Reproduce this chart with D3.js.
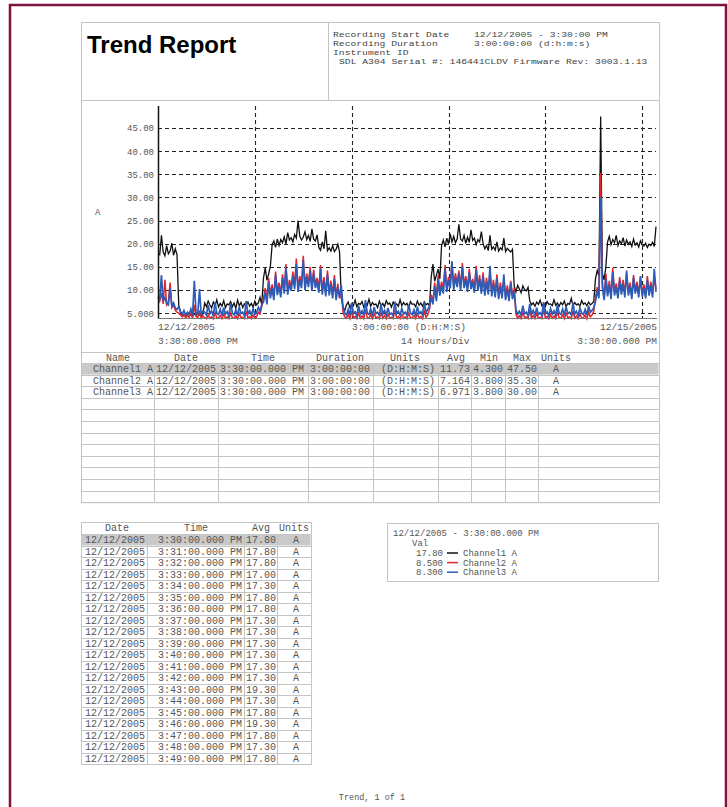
<!DOCTYPE html>
<html><head><meta charset="utf-8">
<script src="https://cdn.jsdelivr.net/npm/d3@7"></script>
<style>
html,body{margin:0;padding:0;background:#fff;}
svg{display:block;}
</style></head>
<body>
<svg id="chart" width="728" height="807"></svg>
<script>
// ---------------- DATA ----------------
const seriesNames = ["Channel1 A", "Channel2 A", "Channel3 A"];
const seriesColors = ["#111111", "#e3242b", "#2c5cb8"];
const totalHours = 72;
const yTicks = [5, 10, 15, 20, 25, 30, 35, 40, 45];
const yTickLabels = ["5.000", "10.00", "15.00", "20.00", "25.00", "30.00", "35.00", "40.00", "45.00"];
const gridHours = [14, 28, 42, 56, 70];

const ch1 = [17.8, 17.6, 21.8, 18.2, 17.4, 19.6, 17.8, 18.4, 20.1, 17.5, 18.9, 17.6,
 6.8, 5.2, 4.6,
 4.4, 4.8, 4.5, 5.1, 4.6, 4.3, 4.9, 4.5, 5.0, 4.6, 4.4, 4.8,
 7.2, 6.4, 7.6, 6.8, 6.1, 7.4, 6.6, 7.9, 6.3, 7.1, 6.5, 7.7, 6.2, 7.0, 6.8, 7.5, 6.4, 7.2, 6.0, 7.8, 6.6, 7.3, 6.2, 7.0, 6.7, 7.4,
 6.5, 7.1, 6.3, 7.6, 6.8, 7.2, 8.4, 6.9,
 12.6, 14.8, 12.1, 13.5, 15.2,
 19.8, 20.6, 19.2, 21.0, 19.6, 20.9, 20.2, 21.5, 19.9, 22.4, 20.8, 21.3, 20.4, 22.0, 21.2,
 25.0, 21.6, 20.8,
 21.4, 22.6, 20.9, 21.8, 20.5, 23.2, 21.0, 20.6, 21.9,
 19.2, 18.6, 20.4, 18.9, 22.8, 18.5, 19.1, 18.4, 19.6, 18.3, 18.8, 19.9, 18.2,
 8.2, 6.4, 5.5,
 6.8, 7.4, 6.2, 7.0, 6.6, 7.8, 6.4, 7.1, 6.9, 7.5, 6.3, 7.2, 6.7, 8.0, 6.5, 7.3, 6.8, 7.0, 6.2, 7.6, 6.6, 7.1, 6.4, 7.7, 6.9,
 7.2, 6.3, 7.4, 6.7, 7.0, 6.5, 7.9, 6.6, 7.3, 6.8, 7.1, 6.2, 7.5, 6.9, 7.0, 6.4, 7.6, 6.7, 7.2, 6.5, 7.4, 6.8, 7.1, 6.6,
 12.8, 15.6, 11.9, 13.2, 14.5, 12.4,
 19.6, 20.8, 19.3, 21.2, 20.0, 22.1, 20.4, 21.6, 20.2, 21.0,
 24.2, 21.0,
 20.6, 21.8, 20.1, 21.4, 20.3, 23.0, 20.7, 21.2, 19.8, 20.9, 20.4, 22.6, 20.0,
 18.9, 19.6, 18.5, 21.8, 18.8, 19.3, 18.6, 20.4, 18.4, 19.1, 18.7, 21.2, 18.3, 19.0, 18.6, 18.2, 18.8,
 10.8, 9.6, 11.0, 10.2, 9.4, 10.9, 10.1, 9.8, 10.6,
 7.6, 6.8, 7.2, 6.5, 7.4, 6.9, 7.8, 6.6, 7.1, 6.4, 7.5, 6.9, 7.0, 6.6, 7.9, 6.7, 7.2, 6.5, 7.3,
 6.8, 7.6, 6.4, 7.1, 6.9, 8.2, 6.6, 7.3, 6.8, 7.0, 6.5, 7.7, 6.9, 7.2, 6.6, 7.4, 6.8, 7.1, 7.5,
 12.4, 14.2, 13.0, 47.5,
 13.6, 12.2, 15.0,
 20.4, 21.6, 19.8, 20.9, 20.2, 21.8, 19.6, 20.6, 20.0, 21.3, 19.5, 20.8, 19.9, 20.4, 19.4,
 21.0, 19.7, 20.2, 19.3, 20.6, 19.8, 19.5, 20.1, 19.2, 19.9, 19.6, 20.3, 19.4, 23.7];

const ch2 = [8.5, 7.6, 9.4, 7.0, 12.2, 6.8, 7.4, 11.6, 6.2, 6.8, 5.6, 5.2, 5.0,
 4.6, 4.2, 4.8, 4.0, 4.5, 4.1, 5.0, 3.9, 6.8, 4.3, 4.0, 5.6, 3.9, 4.4,
 4.0, 3.8, 4.6, 3.9, 4.2, 3.8, 5.2, 4.0, 3.9, 4.5, 3.8, 4.8, 3.9, 4.2, 3.8, 5.0, 4.0,
 3.9, 4.4, 3.8, 4.9, 4.0, 4.1, 3.8, 5.4, 3.9, 4.3, 3.8, 4.6, 3.9, 4.2, 5.2, 4.8, 6.4,
 8.0, 10.4, 7.6, 12.6, 9.0, 11.2, 8.6, 14.0, 9.6, 11.6, 9.2, 13.4, 10.0, 15.6, 9.8, 12.2,
 10.6, 14.0, 11.0, 16.8, 10.4, 13.0, 11.2, 17.4, 10.8, 13.6, 11.4, 15.0, 10.6, 14.4, 11.2,
 12.6, 10.2, 15.4, 9.8, 12.8, 9.4, 14.2, 9.6, 12.0, 9.0, 13.2, 8.6, 11.4, 8.2, 10.0,
 5.2, 4.2, 3.9, 4.6, 3.8, 5.4, 4.0, 4.3, 3.8, 5.0, 3.9, 4.4, 3.8, 5.8, 4.0, 3.9, 4.6,
 3.8, 4.9, 4.0, 4.2, 3.8, 5.2, 3.9, 4.5, 3.8, 4.8, 3.9, 4.1, 3.8, 5.6, 4.0, 4.3, 3.8,
 4.7, 3.9, 4.2, 3.8, 5.0, 4.0, 3.9, 4.5, 3.8, 4.9, 4.0, 4.3, 3.8, 5.4, 4.1, 4.6, 5.8,
 9.0, 7.4, 11.6, 8.2, 13.2, 9.6, 11.8, 10.0, 15.4, 10.4, 12.8, 11.2, 16.0, 10.8, 13.6, 11.4,
 14.2, 10.6, 15.8, 11.2, 13.0, 10.4, 14.6, 11.0, 12.4, 10.2, 15.2, 10.6, 13.2, 10.0, 13.8,
 9.6, 12.6, 9.8, 14.0, 9.4, 12.2, 9.2, 13.4, 8.8, 11.6, 9.0, 12.4, 8.6, 11.0, 8.4, 12.0, 8.8, 10.4,
 4.8, 3.9, 4.4, 3.8, 5.2, 4.0, 4.2, 3.8, 5.6, 3.9, 4.5, 3.8, 4.9, 3.9, 4.1, 3.8,
 5.8, 4.0, 4.3, 3.8, 4.7, 3.9, 4.4, 3.8, 5.3, 4.0, 3.9, 4.6, 3.8, 5.0, 4.0,
 4.2, 3.8, 5.5, 3.9, 4.4, 3.8, 4.8, 4.0, 3.9, 4.6, 3.8, 5.2, 4.2, 4.6, 5.4,
 8.2, 10.6, 9.0, 35.3, 11.4, 8.4, 13.6, 9.2, 12.0, 8.8, 14.8, 9.6, 11.4, 9.0, 12.8, 9.8, 12.2, 9.2,
 13.6, 9.6, 11.6, 8.8, 13.2, 10.0, 11.8, 9.2, 12.6, 9.4, 11.2, 9.0, 13.0, 9.6, 11.8, 9.2, 12.8, 10.2];

const ch3 = [8.3, 8.1, 13.2, 7.6, 8.4, 7.1, 6.8, 10.4, 6.5, 7.2, 6.1, 5.8, 6.4,
 5.3, 4.8, 5.6, 4.6, 5.2, 4.7, 5.9, 4.5, 12.0, 5.1, 4.8, 10.2, 4.6, 5.4,
 5.2, 4.6, 6.8, 4.9, 5.5, 4.4, 7.4, 5.0, 4.7, 5.8, 4.5, 6.2, 4.8, 5.3, 4.4, 7.1, 5.0,
 4.6, 5.7, 4.5, 6.4, 4.9, 5.2, 4.4, 7.6, 4.8, 5.5, 4.6, 6.0, 4.7, 5.1, 6.3, 5.4, 6.9,
 7.4, 9.6, 6.9, 11.8, 8.2, 10.4, 7.8, 13.2, 8.9, 10.8, 8.4, 12.6, 9.2, 14.8, 9.0, 11.4,
 9.8, 13.0, 10.2, 15.6, 9.6, 12.2, 10.4, 16.4, 10.0, 12.8, 10.6, 14.2, 9.8, 13.6, 10.4,
 11.8, 9.4, 14.6, 9.0, 12.0, 8.6, 13.4, 8.8, 11.2, 8.2, 12.4, 7.8, 10.6, 8.4, 11.0,
 6.2, 5.0, 4.6, 5.8, 4.5, 7.2, 4.9, 5.3, 4.4, 6.6, 4.8, 5.5, 4.5, 7.8, 5.0, 4.7, 5.9,
 4.4, 6.3, 4.9, 5.2, 4.5, 7.0, 4.8, 5.6, 4.6, 6.1, 4.7, 5.0, 4.4, 7.5, 4.9, 5.4, 4.6,
 6.0, 4.8, 5.2, 4.5, 6.8, 5.0, 4.7, 5.7, 4.4, 6.4, 4.9, 5.3, 4.6, 7.3, 5.1, 5.8, 6.5,
 8.4, 6.9, 10.8, 7.6, 12.4, 8.8, 11.0, 9.2, 14.6, 9.6, 12.0, 10.4, 16.2, 10.0, 12.8, 10.6,
 13.6, 9.8, 15.0, 10.4, 12.2, 9.6, 13.8, 10.2, 11.6, 9.4, 14.4, 9.8, 12.4, 9.2, 13.0,
 8.8, 11.8, 9.0, 15.2, 8.6, 11.4, 8.4, 12.6, 8.0, 10.8, 8.2, 13.4, 7.8, 10.2, 7.6, 11.6, 8.0, 9.6,
 5.8, 4.8, 5.4, 4.5, 6.6, 4.9, 5.2, 4.4, 7.0, 4.8, 5.6, 4.6, 6.2, 4.7, 5.1, 4.5,
 7.4, 4.9, 5.3, 4.4, 6.0, 4.8, 5.5, 4.6, 6.8, 5.0, 4.7, 5.9, 4.5, 6.4, 4.9,
 5.2, 4.6, 7.2, 4.8, 5.4, 4.5, 6.1, 5.0, 4.7, 5.8, 4.6, 6.6, 5.2, 5.6, 6.2,
 7.6, 9.8, 8.2, 30.0, 10.6, 7.8, 12.4, 8.6, 11.2, 8.0, 13.8, 8.8, 10.6, 8.2, 12.0, 9.0, 11.4, 8.4,
 14.2, 8.8, 10.8, 8.0, 12.6, 9.2, 11.0, 8.4, 13.0, 8.6, 10.4, 8.2, 12.2, 8.8, 11.0, 8.4, 14.6, 9.6];

// header info
const headerLabels = ["Recording Start Date", "Recording Duration", "Instrument ID"];
const headerValues = ["12/12/2005 - 3:30:00 PM", "3:00:00:00 (d:h:m:s)", ""];
const instrumentLine = "SDL A304 Serial #: 146441CLDV Firmware Rev: 3003.1.13";

// summary table
const sumHeaders = ["Name", "Date", "Time", "Duration", "Units", "Avg", "Min", "Max", "Units"];
const sumDates = ["12/12/2005", "12/12/2005", "12/12/2005"];
const sumTimes = ["3:30:00.000 PM", "3:30:00.000 PM", "3:30:00.000 PM"];
const sumDurations = ["3:00:00:00", "3:00:00:00", "3:00:00:00"];
const sumDurUnits = ["(D:H:M:S)", "(D:H:M:S)", "(D:H:M:S)"];
const sumAvg = ["11.73", "7.164", "6.971"];
const sumMin = ["4.300", "3.800", "3.800"];
const sumMax = ["47.50", "35.30", "30.00"];
const sumUnits = ["A", "A", "A"];

// reading table
const readHeaders = ["Date", "Time", "Avg", "Units"];
const readTimes = ["3:30:00.000 PM","3:31:00.000 PM","3:32:00.000 PM","3:33:00.000 PM","3:34:00.000 PM",
 "3:35:00.000 PM","3:36:00.000 PM","3:37:00.000 PM","3:38:00.000 PM","3:39:00.000 PM",
 "3:40:00.000 PM","3:41:00.000 PM","3:42:00.000 PM","3:43:00.000 PM","3:44:00.000 PM",
 "3:45:00.000 PM","3:46:00.000 PM","3:47:00.000 PM","3:48:00.000 PM","3:49:00.000 PM"];
const readAvg = ["17.80","17.80","17.80","17.00","17.30","17.80","17.80","17.30","17.30","17.30",
 "17.30","17.30","17.30","19.30","17.30","17.80","19.30","17.80","17.30","17.80"];

// cursor legend
const cursorTime = "12/12/2005 - 3:30:00.000 PM";
const cursorVals = ["17.80", "8.500", "8.300"];

// ---------------- DRAW ----------------
const svg = d3.select("#chart");
const MONO = "'Liberation Mono','Courier New',monospace";
const TXT = "#555";
const BOX = "#c4c4c4";

// page border
svg.append("rect").attr("x", 10).attr("y", 5).attr("width", 716).attr("height", 812)
  .attr("fill", "none").attr("stroke", "#7d1342").attr("stroke-width", 2.5);

function boxRect(x, y, w, h) {
  svg.append("rect").attr("x", x + 0.5).attr("y", y + 0.5).attr("width", w).attr("height", h)
    .attr("fill", "none").attr("stroke", BOX).attr("stroke-width", 1);
}
function hline(x1, x2, y, c) {
  svg.append("line").attr("x1", x1).attr("x2", x2).attr("y1", y + 0.5).attr("y2", y + 0.5)
    .attr("stroke", c || BOX).attr("stroke-width", 1);
}
function vline(x, y1, y2, c) {
  svg.append("line").attr("x1", x + 0.5).attr("x2", x + 0.5).attr("y1", y1).attr("y2", y2)
    .attr("stroke", c || BOX).attr("stroke-width", 1);
}
function txt(x, y, s, opts) {
  opts = opts || {};
  const t = svg.append("text").attr("x", x).attr("y", y).text(s)
    .attr("font-family", opts.family || MONO)
    .attr("font-size", opts.size || 10)
    .attr("font-weight", opts.weight || "normal")
    .attr("fill", opts.fill || TXT)
    .attr("text-anchor", opts.anchor || "start")
    .style("white-space", "pre");
  if (opts.charW && s.length) {
    t.attr("textLength", s.length * opts.charW).attr("lengthAdjust", "spacingAndGlyphs");
  }
  return t;
}

// header
boxRect(81, 22, 578, 78);
vline(328, 22, 100);
txt(87, 53, "Trend Report", {family: "'Liberation Sans',Arial,sans-serif", size: 24, weight: "bold", fill: "#000"});
const hOpts = {size: 8.1, fill: "#444", charW: 5.82};
headerLabels.forEach((l, i) => {
  txt(333, 36.5 + i * 9.3, l, hOpts);
  if (headerValues[i]) txt(474, 36.5 + i * 9.3, headerValues[i], hOpts);
});
txt(339, 64.4, instrumentLine, hOpts);

// chart box
boxRect(81, 100, 578, 252);

const x = d3.scaleLinear().domain([0, totalHours]).range([158, 656]);
const y = d3.scaleLinear().domain([3.95, 49.75]).range([318, 106]);

const plot = svg.append("g");
// grid horizontal
plot.selectAll(".hg").data(yTicks).enter().append("line")
  .attr("x1", x(0)).attr("x2", x(totalHours))
  .attr("y1", d => Math.round(y(d)) + 0.5).attr("y2", d => Math.round(y(d)) + 0.5)
  .attr("stroke", "#222").attr("stroke-width", 1.1).attr("stroke-dasharray", "4,3");
// grid vertical
plot.selectAll(".vg").data(gridHours).enter().append("line")
  .attr("x1", d => Math.round(x(d)) + 0.5).attr("x2", d => Math.round(x(d)) + 0.5)
  .attr("y1", y.range()[1]).attr("y2", y.range()[0])
  .attr("stroke", "#222").attr("stroke-width", 1.1).attr("stroke-dasharray", "4,3");

// y axis
const yAxis = d3.axisLeft(y).tickValues(yTicks).tickSize(0).tickPadding(4)
  .tickFormat((d, i) => yTickLabels[i]);
const yg = svg.append("g").attr("transform", "translate(158,0)").call(yAxis);
yg.select(".domain").remove();
yg.selectAll("text").attr("font-family", MONO).attr("font-size", 9).attr("fill", TXT);

// series
const line = d3.line()
  .x((d, i, arr) => x(i * totalHours / (arr.length - 1)))
  .y(d => y(d))
  .curve(d3.curveLinear);
const widths = [1.3, 1.5, 1.7];
[ch1, ch2, ch3].forEach((s, k) => {
  plot.append("path").datum(s).attr("d", line)
    .attr("fill", "none").attr("stroke", seriesColors[k])
    .attr("stroke-width", widths[k]).attr("stroke-linejoin", "miter");
});

// axis lines
svg.append("line").attr("x1", 158.5).attr("x2", 158.5).attr("y1", 106).attr("y2", 319)
  .attr("stroke", "#111").attr("stroke-width", 1.5);
svg.append("line").attr("x1", 158).attr("x2", 657).attr("y1", 318.5).attr("y2", 318.5)
  .attr("stroke", "#777").attr("stroke-width", 1);

txt(95, 215, "A", {size: 9});

// x labels
txt(158, 330, "12/12/2005", {size: 9.5});
txt(158, 344, "3:30:00.000 PM", {size: 9.5});
txt(352, 330, "3:00:00:00 (D:H:M:S)", {size: 9.5});
txt(401, 344, "14 Hours/Div", {size: 9.5});
txt(657, 330, "12/15/2005", {size: 9.5, anchor: "end"});
txt(657, 344, "3:30:00.000 PM", {size: 9.5, anchor: "end"});

// summary table
const colEdges = [81, 154, 218, 308, 373, 438, 471, 505, 538, 659];
const tTop = 352, headH = 11, rowH = 11.6, nRows = 12;
const rowY = i => tTop + headH + i * rowH;
svg.append("rect").attr("x", 81.5).attr("y", rowY(0)).attr("width", 577).attr("height", rowH)
  .attr("fill", "#c9c9c9");
boxRect(81, tTop, 578, headH + nRows * rowH);
for (let i = 0; i <= nRows; i++) hline(81, 659, Math.round(rowY(i)));
colEdges.slice(1, -1).forEach(cx => vline(cx, rowY(0), rowY(nRows)));
const headCenters = [118, 186, 263, 340, 405, 456, 489, 522, 556];
sumHeaders.forEach((h, i) => txt(headCenters[i], tTop + 9, h, {anchor: "middle"}));
seriesNames.forEach((n, r) => {
  const by = rowY(r) + 9;
  txt(153, by, n, {anchor: "end"});
  txt(156, by, sumDates[r]);
  txt(220, by, sumTimes[r]);
  txt(310, by, sumDurations[r]);
  txt(435, by, sumDurUnits[r], {anchor: "end"});
  txt(440, by, sumAvg[r]);
  txt(473, by, sumMin[r]);
  txt(507, by, sumMax[r]);
  txt(556, by, sumUnits[r], {anchor: "middle"});
});

// readings table
const rTop = 522, rHead = 12, rRow = 11.5;
const rRowY = i => rTop + rHead + i * rRow;
const rEdges = [81, 147, 244, 277, 311];
svg.append("rect").attr("x", 81.5).attr("y", rRowY(0)).attr("width", 229).attr("height", rRow)
  .attr("fill", "#c9c9c9");
boxRect(81, rTop, 230, rHead + readTimes.length * rRow);
for (let i = 0; i <= readTimes.length; i++) hline(81, 311, Math.round(rRowY(i)));
rEdges.slice(1, -1).forEach(cx => vline(cx, rRowY(0), rRowY(readTimes.length)));
const rHeadX = [117, 196, 261, 294];
readHeaders.forEach((h, i) => txt(rHeadX[i], rTop + 9, h, {anchor: "middle"}));
readTimes.forEach((t, r) => {
  const by = rRowY(r) + 9;
  txt(145, by, "12/12/2005", {anchor: "end"});
  txt(242, by, t, {anchor: "end"});
  txt(246, by, readAvg[r]);
  txt(296, by, "A", {anchor: "middle"});
});

// cursor legend box
boxRect(387, 523, 271, 58);
txt(393, 536, cursorTime, {size: 9});
txt(412, 546, "Val", {size: 9});
seriesNames.forEach((n, i) => {
  const by = 556 + i * 9.6;
  txt(443, by, cursorVals[i], {size: 9, anchor: "end"});
  svg.append("line").attr("x1", 447).attr("x2", 458).attr("y1", by - 3).attr("y2", by - 3)
    .attr("stroke", seriesColors[i]).attr("stroke-width", 1.5);
  txt(463, by, n, {size: 9});
});

// footer
txt(372, 800, "Trend, 1 of 1", {size: 8.5, anchor: "middle"});
</script>
</body></html>
